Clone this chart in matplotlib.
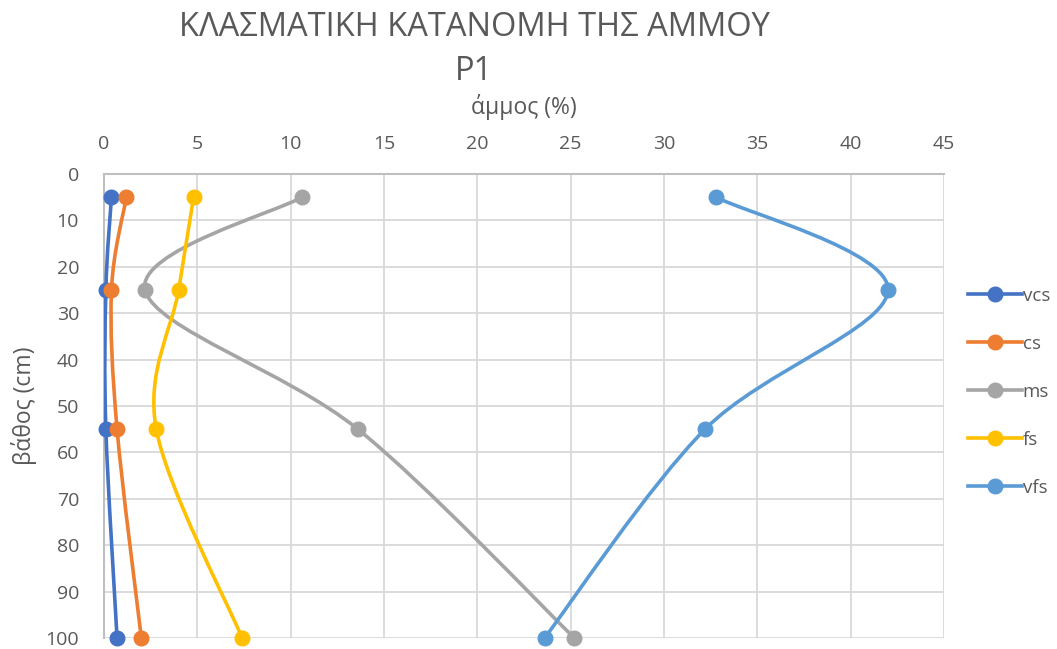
import matplotlib
matplotlib.use("Agg")
import matplotlib.pyplot as plt
from matplotlib.path import Path
from matplotlib.patches import PathPatch
from matplotlib.lines import Line2D

plt.rcParams['font.family'] = ['Open Sans', 'DejaVu Sans']

# Depth of each sample (cm) and sand fractions (%)
depth = [5, 25, 55, 100]
vcs = [0.4, 0.1, 0.1, 0.7]
cs = [1.2, 0.4, 0.7, 2.0]
ms = [10.6, 2.2, 13.6, 25.2]
fs = [4.8, 4.0, 2.8, 7.4]
vfs = [32.8, 42.0, 32.2, 23.6]

series_names = ['vcs', 'cs', 'ms', 'fs', 'vfs']
series_values = [vcs, cs, ms, fs, vfs]
series_colors = ['#4472C4', '#ED7D31', '#A5A5A5', '#FFC000', '#5B9BD5']

x_ticks = [0, 5, 10, 15, 20, 25, 30, 35, 40, 45]
y_ticks = [0, 10, 20, 30, 40, 50, 60, 70, 80, 90, 100]

TEXT = '#595959'
GRID = '#D9D9D9'


def smooth_path(xs, ys):
    """Catmull-Rom style cubic Bezier through the points (spreadsheet smoothing)."""
    pts = list(zip(xs, ys))
    n = len(pts)
    verts = [pts[0]]
    codes = [Path.MOVETO]
    for i in range(n - 1):
        p0 = pts[i - 1] if i > 0 else pts[i]
        p1 = pts[i]
        p2 = pts[i + 1]
        p3 = pts[i + 2] if i + 2 < n else pts[i + 1]
        c1 = (p1[0] + (p2[0] - p0[0]) / 6.0, p1[1] + (p2[1] - p0[1]) / 6.0)
        c2 = (p2[0] - (p3[0] - p1[0]) / 6.0, p2[1] - (p3[1] - p1[1]) / 6.0)
        verts += [c1, c2, p2]
        codes += [Path.CURVE4] * 3
    return Path(verts, codes)


fig = plt.figure(figsize=(10.57, 6.49), dpi=100)
W, H = 1057, 649
left, right, top, bottom = 104, 944, 174, 638
ax = fig.add_axes([left / W, 1 - bottom / H, (right - left) / W, (bottom - top) / H])

ax.set_xlim(0, 45)
ax.set_ylim(100, 0)
ax.set_xticks(x_ticks)
ax.set_yticks(y_ticks)
ax.xaxis.tick_top()
ax.xaxis.set_label_position('top')
ax.tick_params(length=0, labelsize=14, colors=TEXT)
ax.tick_params(axis='x', pad=15)
ax.tick_params(axis='y', pad=18)
ax.grid(True, color=GRID, linewidth=1.3)
ax.set_axisbelow(True)
for s in ['right', 'bottom']:
    ax.spines[s].set_visible(False)
for s in ['left', 'top']:
    ax.spines[s].set_color('#BFBFBF')
    ax.spines[s].set_linewidth(1.5)

handles = []
for name, vals, col in zip(series_names, series_values, series_colors):
    patch = PathPatch(smooth_path(vals, depth), facecolor='none', edgecolor=col,
                      linewidth=2.6, capstyle='round', joinstyle='round', zorder=3)
    ax.add_patch(patch)
    ax.plot(vals, depth, linestyle='none', marker='o', markersize=10.5,
            color=col, zorder=4, clip_on=False)
    handles.append(Line2D([], [], color=col, linewidth=2.6, marker='o',
                          markersize=10.5, label=name))

ax.set_xlabel('άμμος (%)', fontsize=16.5, color=TEXT, labelpad=15)
ax.set_ylabel('βάθος (cm)', fontsize=16.5, color=TEXT, labelpad=6)

fig.text(474 / W, 1 - 28 / H, 'ΚΛΑΣΜΑΤΙΚΗ ΚΑΤΑΝΟΜΗ ΤΗΣ ΑΜΜΟΥ', ha='center',
         va='center', fontsize=23.5, color=TEXT)
fig.text(474 / W, 1 - 72 / H, 'P1', ha='center', va='center', fontsize=23.5, color=TEXT)

fig.legend(handles=handles, loc='center left', bbox_to_anchor=(960 / W, 1 - 392 / H),
           frameon=False, fontsize=13.5, labelcolor=TEXT, handlelength=2.9,
           handletextpad=0.05, labelspacing=1.6, borderaxespad=0)

fig.savefig('out.png', dpi=100)
